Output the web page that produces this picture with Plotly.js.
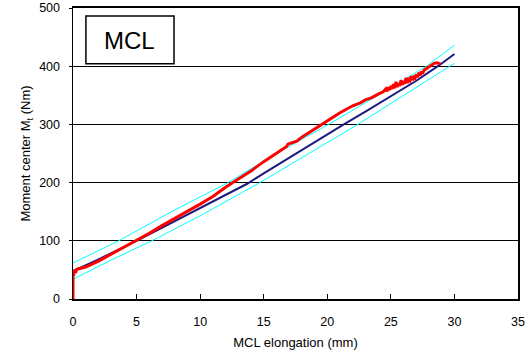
<!DOCTYPE html>
<html>
<head>
<meta charset="utf-8">
<script src="https://cdn.plot.ly/plotly-3.0.1.min.js"></script>
<style>html,body{margin:0;padding:0;background:#fff;}#chart{width:530px;height:353px;}</style>
</head>
<body>
<div id="chart"></div>
<script>
// Upper bound (cyan)
var upperX = [0, 3.6, 8, 12.2, 16, 20.1, 24, 27.8, 30];
var upperY = [62, 100, 153, 200, 250, 300, 350, 400, 436];
// Lower bound (cyan)
var lowerX = [0, 3, 6.2, 10, 14.7, 18.5, 22.4, 26, 29.7, 30];
var lowerY = [34, 67, 100, 143, 200, 250, 300, 350, 400, 405];
// Mean curve (navy)
var meanX = [0, 2, 5, 8, 10, 12, 13, 13.7, 15, 17, 20, 21.3, 23, 25, 27, 28.7, 30];
var meanY = [48, 68, 100, 134, 156, 178, 190, 198, 216, 243, 283, 300, 322, 349, 375, 400, 421];
// Measured curve (red)
var measX = [0, 0, 0.05, 0.1, 0.2, 0.3, 0.6, 1, 2, 3, 4, 5, 6, 7, 8, 9, 10, 11, 12, 13, 14, 15, 16, 16.8, 16.9, 17.2, 17.6, 18, 19, 20, 21, 22, 22.6, 23, 23.5, 24, 24.4,
  24.6, 24.7, 24.8, 24.9, 25, 25.1, 25.2, 25.3, 25.4, 25.5, 25.6, 25.7, 25.8, 25.9, 26, 26.1, 26.2, 26.3, 26.4, 26.5, 26.6, 26.7, 26.8, 26.9, 27, 27.1, 27.2, 27.3, 27.4, 27.5, 27.6, 27.8, 28, 28.2, 28.4, 28.6, 28.9];
var measY = [0, 48, 40, 50, 45, 51, 53, 55, 65, 77, 88, 100, 113, 126, 138, 150, 163, 176, 192, 206, 220, 236, 251, 262, 266, 268, 271, 278, 292, 307, 320, 332, 337, 342, 346, 352, 356,
  361, 357, 364, 359, 366, 361, 369, 362, 373, 364, 371, 366, 376, 368, 374, 370, 380, 371, 377, 375, 383, 376, 381, 379, 386, 381, 389, 384, 391, 387, 393, 396, 399, 403, 405, 406, 404];

var ff = 'Liberation Sans, Arial, sans-serif';
var font = {family: ff, size: 12.5, color: '#000'};
var tfont = {family: ff, size: 13, color: '#000'};

var data = [
  {x: upperX, y: upperY, mode: 'lines', line: {color: '#00ffff', width: 1}, hoverinfo: 'skip'},
  {x: lowerX, y: lowerY, mode: 'lines', line: {color: '#00ffff', width: 1}, hoverinfo: 'skip'},
  {x: meanX, y: meanY, mode: 'lines', line: {color: '#1c1c80', width: 2}, hoverinfo: 'skip'},
  {x: measX, y: measY, mode: 'lines', line: {color: '#ff0000', width: 3}, hoverinfo: 'skip'}
];

var layout = {
  width: 530, height: 353,
  margin: {l: 73, r: 12, t: 8, b: 54},
  showlegend: false,
  paper_bgcolor: '#fff', plot_bgcolor: '#fff',
  font: font,
  xaxis: {
    range: [0, 35], dtick: 5, tick0: 0,
    ticks: 'inside', ticklen: 5, tickcolor: '#000', tickwidth: 1,
    ticklabelstandoff: 10,
    showgrid: false, zeroline: false,
    showline: true, linecolor: '#000', linewidth: 2, mirror: true,
    tickfont: font,
    title: {text: 'MCL elongation (mm)', font: tfont, standoff: 10}
  },
  yaxis: {
    range: [0, 500], dtick: 100, tick0: 0,
    ticks: 'outside', ticklen: 3, tickcolor: '#000', tickwidth: 1,
    ticklabelstandoff: 6,
    showgrid: true, gridcolor: '#000', gridwidth: 1, zeroline: false,
    showline: true, linecolor: '#000', linewidth: 1.5, mirror: true,
    tickfont: font,
    title: {text: 'Moment center M<sub>t</sub> (Nm)', font: tfont, standoff: 5}
  },
  shapes: [
    {type: 'rect', xref: 'paper', yref: 'paper', x0: 0.029, x1: 0.227, y0: 0.808, y1: 0.9725,
     line: {color: '#000', width: 1.5}, fillcolor: '#fff'}
  ],
  annotations: [
    {xref: 'paper', yref: 'paper', x: 0.128, y: 0.89, xanchor: 'center', yanchor: 'middle',
     text: 'MCL', showarrow: false,
     font: {family: ff, size: 24, color: '#000'}}
  ]
};

Plotly.newPlot('chart', data, layout, {staticPlot: true, displayModeBar: false});
</script>
</body>
</html>
